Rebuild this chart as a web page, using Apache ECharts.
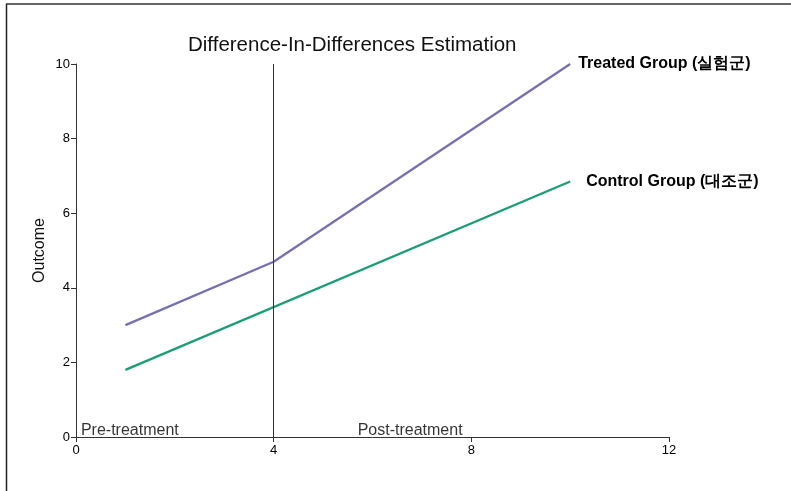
<!doctype html>
<html>
<head>
	<meta charset="utf-8">
	<title>Difference-In-Differences Estimation</title>
	<script src="https://cdn.jsdelivr.net/npm/echarts@6/dist/echarts.min.js"></script>
	<style>
		html, body { margin: 0; padding: 0; background: #fff; }
		#main { width: 791px; height: 491px; }
	</style>
</head>
<body>
	<div id="main"></div>
	<script type="text/javascript">
		// values
		var treatedX = [1, 4, 10];
		var treatedY = [3, 4.7, 10];
		var controlX = [1, 10];
		var controlY = [1.8, 6.85];
		var treatmentTime = 4;
		var phaseNames = ['Pre-treatment', 'Post-treatment'];
		var phaseX = [0.1, 5.7];
		var xTicks = [0, 4, 8, 12];
		var yTicks = [0, 2, 4, 6, 8, 10];

		function pairs(xs, ys) {
			return xs.map((x, i) => [x, ys[i]]);
		}

		var font = 'Liberation Sans, Arial, Helvetica, sans-serif';
		var myChart = echarts.init(document.getElementById('main'));

		var option = {
			animation: false,
			textStyle: { fontFamily: font },
			title: {
				text: 'Difference-In-Differences Estimation',
				left: 183,
				top: 30,
				textStyle: { fontSize: 20.5, fontWeight: 'normal', color: '#111', fontFamily: font }
			},
			grid: { left: 76, right: 122, top: 64, bottom: 54 },
			xAxis: {
				type: 'value',
				min: xTicks[0],
				max: xTicks[xTicks.length - 1],
				interval: 4,
				axisLine: { lineStyle: { color: '#333', width: 1 } },
				axisTick: { show: true, length: 5, lineStyle: { color: '#333' } },
				axisLabel: { color: '#000', fontSize: 13, margin: 7 },
				splitLine: { show: false }
			},
			yAxis: {
				type: 'value',
				min: yTicks[0],
				max: yTicks[yTicks.length - 1],
				interval: 2,
				name: 'Outcome',
				nameLocation: 'middle',
				nameGap: 28,
				nameMoveOverlap: false,
				nameTextStyle: { fontSize: 16, color: '#111' },
				axisLine: { show: true, lineStyle: { color: '#333', width: 1 } },
				axisTick: { show: true, length: 5, lineStyle: { color: '#333' } },
				axisLabel: { color: '#000', fontSize: 13, margin: 6 },
				splitLine: { show: false }
			},
			series: [
				{
					name: 'Treated Group (실험군)',
					type: 'line',
					data: pairs(treatedX, treatedY),
					symbol: 'none',
					lineStyle: { color: '#7570b3', width: 2.3 },
					endLabel: {
						show: true,
						formatter: '{a}',
						distance: 8,
						color: '#000',
						fontSize: 16,
						fontWeight: 'bold',
						fontFamily: font
					},
					markLine: {
						silent: true,
						symbol: 'none',
						label: { show: false },
						lineStyle: { color: '#333', width: 1, type: 'solid' },
						data: [{ xAxis: treatmentTime }]
					}
				},
				{
					name: 'Control Group (대조군)',
					type: 'line',
					data: pairs(controlX, controlY),
					symbol: 'none',
					lineStyle: { color: '#1b9e77', width: 2.3 },
					endLabel: {
						show: true,
						formatter: '{a}',
						distance: 16,
						color: '#000',
						fontSize: 16,
						fontWeight: 'bold',
						fontFamily: font
					}
				},
				{
					name: 'phases',
					type: 'scatter',
					symbolSize: 0,
					silent: true,
					data: phaseX.map((x, i) => ({ value: [x, 0], name: phaseNames[i] })),
					label: {
						show: true,
						formatter: '{b}',
						position: [0, 2],
						align: 'left',
						verticalAlign: 'bottom',
						color: '#000',
						fontSize: 16,
						fontFamily: font
					}
				}
			],
			graphic: [
				{ type: 'line', shape: { x1: 6, y1: 4, x2: 791, y2: 4 }, style: { stroke: '#666', lineWidth: 2 }, silent: true },
				{ type: 'line', shape: { x1: 6.5, y1: 4, x2: 6.5, y2: 491 }, style: { stroke: '#222', lineWidth: 1.5 }, silent: true }
			]
		};

		myChart.setOption(option);
	</script>
</body>
</html>
